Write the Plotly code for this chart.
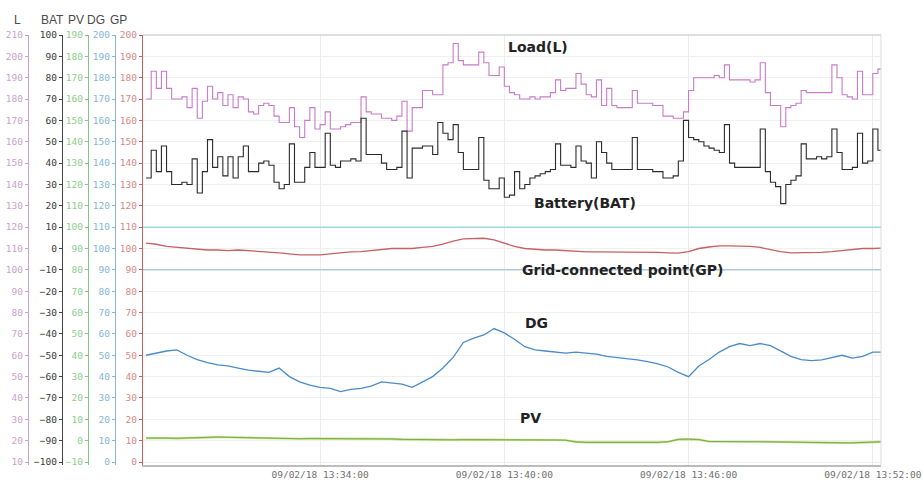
import plotly.graph_objects as go
import pandas as pd

# ---------------- data ----------------
load_L = [180,193,185,193,185,180,180,181,176,185,
          171,179,186,180,183,177,182,176,181,180,
          174,173,177,178,177,172,169,169,176,167,
          162,170,176,166,168,174,166,166,167,168,
          169,169,181,174,173,173,171,171,170,172,
          179,165,176,176,184,184,182,182,196,197,
          206,198,196,196,196,202,197,191,191,195,
          186,183,182,180,180,181,180,181,181,183,
          189,184,185,185,192,187,182,181,189,177,
          185,177,176,176,176,184,178,178,178,177,
          177,172,172,171,171,174,184,190,190,190,
          190,191,190,196,189,189,189,189,188,189,
          197,183,177,177,167,176,177,178,184,183,
          183,183,183,183,196,190,182,181,180,193,
          182,182,192,194,195]

battery_BAT = [33,46,36,48,36,30,30,31,30,42,
               26,36,51,38,43,34,43,33,43,48,
               36,36,40,41,39,31,28,30,49,31,
               31,38,45,38,38,54,39,38,41,41,
               42,41,61,44,44,44,40,37,37,38,
               55,33,47,47,48,48,44,59,54,51,
               58,45,37,37,37,52,32,28,28,33,
               24,25,36,28,30,33,34,35,36,37,
               49,39,39,38,48,41,40,33,50,45,
               40,37,37,37,37,52,37,37,37,36,
               36,33,33,34,41,60,52,51,50,48,
               47,46,45,58,40,38,38,38,38,38,
               56,36,31,29,21,30,32,34,49,42,
               42,43,42,43,56,45,37,37,38,54,
               40,41,56,46,47]

grid_GP = [102.5,102,101,100.5,100,99.5,99.3,99.3,99,99.3,
           99,98.5,98.5,98,97.5,97,97,97,97.5,98,
           98.4,98.5,99,99.5,100,100,100,100.5,101,102,
           103.5,104.5,104.5,104.8,104,102.5,101,100,99.5,99.3,
           99.3,99,98.5,98.4,98.4,98.4,98.2,98.2,98.4,98.3,
           98.2,98,97.8,98.5,100,100.7,101.2,101.2,101.2,101,
           100.5,99.5,98.5,98,98,98,98.2,98.5,99,99.5,
           100,100,100.2]

diesel_DG = [50,51,52,52.5,50,48,46.5,45.5,45,44,
             43,42.5,42,44,40,37.5,36,35,34.5,33,
             34,34.5,35.5,37.5,37,36.5,35,37.5,40,44,
             49,56,58,59.5,62.5,60.5,57.5,54,52.5,52,
             51.5,51,51.5,51,50.5,49.5,49,48.5,47.8,47,
             46,44.5,42,40,45,48,51.5,54,55.5,54.5,
             55.5,54.5,52,49.5,48,47.5,47.8,49,50,48.7,
             49.5,51.5,51.5]

solar_PV = [1.2,1.3,1.2,1.1,1.3,1.6,1.7,1.7,1.6,1.5,
            1.2,1.0,1.0,1.1,1.0,0.9,1.0,1.0,1.1,1.0,
            0.9,1.0,1.0,0.9,0.8,0.6,0.5,0.5,0.6,0.5,
            0.4,0.5,0.5,0.6,0.5,0.5,0.4,0.4,0.3,0.3,
            0.3,0.2,-0.6,-0.8,-0.8,-0.7,-0.8,-0.8,-0.9,-0.8,
            -0.8,-0.5,0.6,0.7,0.5,-0.4,-0.5,-0.5,-0.6,-0.5,
            -0.5,-0.6,-0.6,-0.7,-0.8,-1.0,-1.0,-1.1,-1.0,-1.0,
            -0.9,-0.6,-0.5]

gp_limits = [110, 90]
x_ticks = ["2018-09-02 13:34:00", "2018-09-02 13:40:00",
           "2018-09-02 13:46:00", "2018-09-02 13:52:00"]
x_range = ["2018-09-02 13:28:14", "2018-09-02 13:52:16"]
axis_names = ["L", "BAT", "PV", "DG", "GP"]
series_labels = ["Load(L)", "Battery(BAT)", "Grid-connected point(GP)", "DG", "PV"]

t_fast = pd.date_range("2018-09-02 13:28:20", periods=len(load_L), freq="10s")
t_slow = pd.date_range("2018-09-02 13:28:20", periods=len(grid_GP), freq="20s")

# ---------------- styling ----------------
W, H = 923, 487
TOP, BOT = 35, 465
def xp(px):
    return px / W
def yp(py):
    return (BOT - py) / (BOT - TOP)

C_L, C_BAT, C_PV, C_DG, C_GP = "#c77bc9", "#2b2b2b", "#6fb04a", "#4a8bc9", "#c46262"
TICKFONT = "DejaVu Sans Mono, Liberation Mono, monospace"

fig = go.Figure()
fig.add_trace(go.Scatter(x=t_fast, y=load_L, yaxis="y2", mode="lines",
                         line=dict(color=C_L, width=1.1, shape="hv"), name="L"))
fig.add_trace(go.Scatter(x=t_fast, y=battery_BAT, yaxis="y3", mode="lines",
                         line=dict(color=C_BAT, width=1.1, shape="hv"), name="BAT"))
fig.add_trace(go.Scatter(x=t_slow, y=solar_PV, yaxis="y4", mode="lines",
                         line=dict(color="#c2dc78", width=2.2), name="PV2", hoverinfo="skip"))
fig.add_trace(go.Scatter(x=t_slow, y=solar_PV, yaxis="y4", mode="lines",
                         line=dict(color=C_PV, width=1.0), name="PV"))
fig.add_trace(go.Scatter(x=t_slow, y=diesel_DG, yaxis="y5", mode="lines",
                         line=dict(color=C_DG, width=1.3), name="DG"))
fig.add_trace(go.Scatter(x=t_slow, y=grid_GP, yaxis="y", mode="lines",
                         line=dict(color=C_GP, width=1.3), name="GP"))

def yax(rng, t0, lc, tc, **kw):
    d = dict(range=rng, tick0=t0, dtick=10, showline=True, linecolor=lc, linewidth=1.3,
             ticks="outside", ticklen=3, tickcolor=lc,
             tickfont=dict(family=TICKFONT, size=9.5, color=tc),
             zeroline=False, fixedrange=True, automargin=False)
    d.update(kw)
    return d

fig.update_layout(
    template="none",
    width=W, height=H,
    margin=dict(l=0, r=0, t=TOP, b=H - BOT, pad=0, autoexpand=False),
    paper_bgcolor="white", plot_bgcolor="white",
    showlegend=False,
    xaxis=dict(domain=[xp(143), xp(881)], type="date", range=x_range,
               tickvals=x_ticks, tickformat="%m/%d/%y %H:%M:%S",
               showgrid=True, gridcolor="#ececec", gridwidth=1,
               showline=True, linecolor="#bcbcbc", linewidth=2,
               ticks="", tickfont=dict(family=TICKFONT, size=9.5, color="#707070"),
               zeroline=False, automargin=False),
    yaxis=yax([-1.4, 200], 0, C_GP, "#d48a8a", anchor="x", side="left",
              showgrid=True, gridcolor="#efefef"),
    yaxis2=yax([8.6, 210], 10, "#c9a3cc", "#c9a3cc", overlaying="y", anchor="free",
               position=xp(28), side="left", showgrid=False),
    yaxis3=yax([-101.4, 100], 0, "#444444", "#3a3a3a", overlaying="y", anchor="free",
               position=xp(62), side="left", showgrid=False),
    yaxis4=yax([-11.4, 190], -10, "#86c486", "#8ccf8c", overlaying="y", anchor="free",
               position=xp(88), side="left", showgrid=False),
    yaxis5=yax([-1.4, 200], 0, "#86b6d8", "#86b6d8", overlaying="y", anchor="free",
               position=xp(115), side="left", showgrid=False),
)

shapes = []
# frame (top, right)
shapes.append(dict(type="line", xref="x domain", yref="y domain", x0=0, x1=1, y0=1, y1=1,
                   line=dict(color="#d6d6d6", width=1.5)))
shapes.append(dict(type="line", xref="x domain", yref="y domain", x0=1, x1=1, y0=0, y1=1,
                   line=dict(color="#dcdcdc", width=1)))
# GP limit lines
for val, col in zip(gp_limits, ["#9fd8e3", "#b3c8d6"]):
    shapes.append(dict(type="line", xref="x domain", yref="y", x0=0, x1=1, y0=val, y1=val,
                       line=dict(color=col, width=1.5)))
fig.update_layout(shapes=shapes)

annots = []
label_pos = [(538, 47), (585, 203), (622, 270), (536, 323), (530, 418)]
for txt, (x, y) in zip(series_labels, label_pos):
    annots.append(dict(text="<b>%s</b>" % txt, x=xp(x), y=yp(y), xref="paper", yref="paper",
                       showarrow=False, xanchor="center", yanchor="middle",
                       font=dict(family="DejaVu Sans, Liberation Sans, sans-serif", size=14, color="#222")))
name_pos = [17, 52, 76, 96, 118]
for txt, x in zip(axis_names, name_pos):
    annots.append(dict(text=txt, x=xp(x), y=yp(20), xref="paper", yref="paper",
                       showarrow=False, xanchor="center", yanchor="middle",
                       font=dict(family="Liberation Sans, Arial, sans-serif", size=12, color="#4a4a4a")))
fig.update_layout(annotations=annots)

fig.write_html("out.html", config={"displayModeBar": False},
               post_script="document.body.style.margin='0';document.body.style.overflow='hidden';")
